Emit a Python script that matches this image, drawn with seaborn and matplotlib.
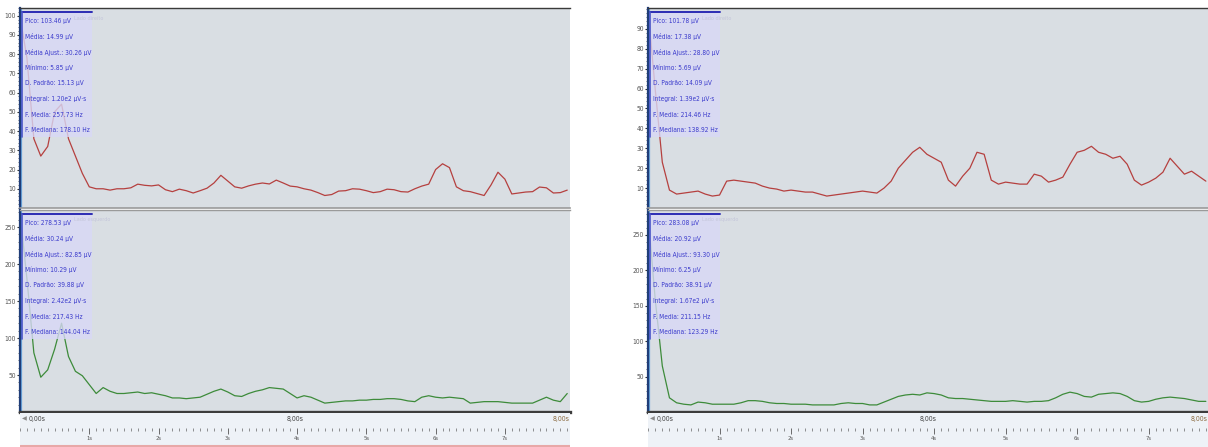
import numpy as np
import matplotlib
matplotlib.use('Agg')
import matplotlib.pyplot as plt
import seaborn as sns
from matplotlib.patches import Rectangle
from matplotlib.ticker import FixedLocator, MultipleLocator, AutoMinorLocator

W, H = 1208, 447

# ---------------- data (one reading every 0.1 s) ----------------
t_left = np.round(np.arange(0, 8.0, 0.1), 1)    # 0.0 .. 7.9 s
t_right = np.round(np.arange(0, 7.9, 0.1), 1)   # 0.0 .. 7.8 s

left_top = [100, 78, 36, 27, 32, 50, 54, 36, 27, 18,
            11, 10, 10, 9.3, 10, 10, 10.5, 12.4, 11.8, 11.5,
            12, 9.5, 8.5, 9.8, 9, 7.8, 9, 10.3, 13, 17,
            14, 11, 10.3, 11.5, 12.4, 13, 12.5, 14.5, 13, 11.4,
            11, 10, 9.3, 8, 6.5, 7, 8.8, 9, 10, 9.8,
            9, 8, 8.5, 9.8, 9.5, 8.5, 8.3, 10, 11.4, 12.4,
            20, 23, 21, 11, 9, 8.5, 7.5, 6.5, 12, 18.6,
            15, 7.3, 7.8, 8.3, 8.5, 10.9, 10.5, 7.8, 8, 9.3]

left_bottom = [270, 180, 80, 47, 57, 85, 120, 75, 55, 49,
               37, 25, 33, 28, 25, 25, 26, 27, 25, 26,
               24, 22, 19, 19, 18, 19, 20, 24, 28, 31,
               27, 22, 21, 25, 28, 30, 33, 32, 31, 25,
               19, 22, 20, 16, 12, 13, 14, 15, 15, 16,
               16, 17, 17, 18, 18, 17, 15, 14, 20, 22,
               20, 19, 20, 19, 18, 12, 13, 14, 14, 14,
               13, 12, 12, 12, 12, 16, 20, 16, 14, 25]

right_top = [100, 60, 23, 9, 7, 7.5, 8, 8.5, 7, 6,
             6.5, 13.5, 14, 13.5, 13, 12.5, 11, 10, 9.5, 8.5,
             9, 8.5, 8, 8, 7, 6, 6.5, 7, 7.5, 8,
             8.5, 8, 7.5, 10, 13.5, 20, 24, 28, 30.5, 27,
             25, 23, 14, 11, 16, 20, 28, 27, 14, 12,
             13, 12.5, 12, 12, 17, 16, 13, 14, 15.5, 22,
             28, 29, 31, 28, 27, 25, 26, 22, 14, 11.5,
             13, 15, 18, 25, 21, 17, 18.5, 16, 13.5]

right_bottom = [280, 160, 65, 20, 13, 11, 10, 14, 13, 11,
                11, 11, 11, 13, 16, 16, 15, 13, 12, 12,
                11, 11, 11, 10, 10, 10, 10, 12, 13, 12,
                12, 10, 10, 14, 18, 22, 24, 25, 24, 27,
                26, 24, 20, 19, 19, 18, 17, 16, 15, 15,
                15, 16, 15, 14, 15, 15, 16, 20, 25, 28,
                26, 22, 21, 25, 26, 27, 26, 22, 16, 14,
                15, 18, 20, 21, 20, 19, 17, 15, 15]

stat_names = ['Pico', 'Média', 'Média Ajust.', 'Mínimo', 'D. Padrão',
              'Integral', 'F. Media', 'F. Mediana']
stat_units = ['µV', 'µV', 'µV', 'µV', 'µV', 'µV·s', 'Hz', 'Hz']
stats_left_top = ['103.46', '14.99', '30.26', '5.85', '15.13', '1.20e2', '257.73', '178.10']
stats_left_bottom = ['278.53', '30.24', '82.85', '10.29', '39.88', '2.42e2', '217.43', '144.04']
stats_right_top = ['101.78', '17.38', '28.80', '5.69', '14.09', '1.39e2', '214.46', '138.92']
stats_right_bottom = ['283.08', '20.92', '93.30', '6.25', '38.91', '1.67e2', '211.15', '123.29']

top_ticks = [10, 20, 30, 40, 50, 60, 70, 80, 90, 100]
bottom_ticks = [50, 100, 150, 200, 250]
sec_ticks = [1, 2, 3, 4, 5, 6, 7]
sec_labels = ['1s', '2s', '3s', '4s', '5s', '6s', '7s']

# ---------------- style ----------------
sns.set_theme(style='white')
plt.rcParams['font.family'] = ['DejaVu Sans']
narrow = ['Liberation Sans Narrow', 'DejaVu Sans']

BG = '#d9dee3'
RED = '#b5403f'
GREEN = '#3d8b3a'
BLUE_TXT = '#3b3bcc'

fig = plt.figure(figsize=(W / 100, H / 100), dpi=100)
fig.patch.set_facecolor('white')


def px(x0, y0, x1, y1):
    return [x0 / W, 1 - y1 / H, (x1 - x0) / W, (y1 - y0) / H]


def style_signal(ax, ticks, ymax, xmax, bottom_dark):
    ax.set_facecolor(BG)
    ax.set_xlim(0, xmax)
    ax.set_ylim(0, ymax)
    ax.set_xticks([])
    ax.yaxis.set_major_locator(FixedLocator(ticks))
    ax.yaxis.set_minor_locator(AutoMinorLocator(5))
    ax.tick_params(axis='y', which='major', direction='out', length=2.5, width=0.8,
                   color='#333333', labelsize=4.8, labelcolor='#555555', pad=0.5, left=True)
    ax.tick_params(axis='y', which='minor', direction='out', length=1.2, width=0.5,
                   color='#333333', left=True)
    for lab in ax.get_yticklabels():
        lab.set_family(narrow)
        lab.set_stretch('condensed')
    ax.spines['right'].set_visible(False)
    ax.spines['left'].set_color('#1f3d78')
    ax.spines['left'].set_linewidth(1.6)
    if bottom_dark:
        ax.spines['top'].set_color('#9a9a9a')
        ax.spines['top'].set_linewidth(1.0)
        ax.spines['bottom'].set_color('#3c3c3c')
        ax.spines['bottom'].set_linewidth(2.4)
    else:
        ax.spines['top'].set_color('#3a3a3a')
        ax.spines['top'].set_linewidth(1.0)
        ax.spines['bottom'].set_color('#9a9a9a')
        ax.spines['bottom'].set_linewidth(1.2)
    ax.axvline(0.015, color='#6aa6dc', lw=0.9)
    ax.set_xlabel('')
    ax.set_ylabel('')


def stats_box(x0, y0, values, side_name):
    bw, bh = 70, 125
    fig.add_artist(Rectangle((x0 / W, 1 - (y0 + bh) / H), bw / W, bh / H,
                             transform=fig.transFigure, facecolor='#d8d8f6',
                             edgecolor='none', alpha=0.8, zorder=3))
    fig.add_artist(plt.Line2D([x0 / W, (x0 + bw) / W], [1 - y0 / H, 1 - y0 / H],
                              transform=fig.transFigure, color='#2c2cb4', lw=1.4, zorder=4))
    fig.add_artist(plt.Line2D([x0 / W, x0 / W], [1 - y0 / H, 1 - (y0 + bh) / H],
                              transform=fig.transFigure, color='#4a55c8', lw=1.2, zorder=4))
    # faint channel name, peeking out to the right of the first row
    fig.text((x0 + 52) / W, 1 - (y0 + 6) / H, side_name, fontsize=4.0, family=narrow,
             stretch='condensed', color='#c4c6da', va='center', ha='left', zorder=4)
    for i, (nm, val, un) in enumerate(zip(stat_names, values, stat_units)):
        fig.text((x0 + 3) / W, 1 - (y0 + 9 + 15.6 * i) / H, f'{nm}: {val} {un}',
                 fontsize=4.7, family=narrow, stretch='condensed', color=BLUE_TXT,
                 va='center', ha='left', zorder=5)


def ruler(ax, xmax, pink):
    ax.set_facecolor('#eef2f7')
    ax.set_xlim(0, xmax)
    ax.set_ylim(0, 1)
    ax.set_yticks([])
    for s in ['top', 'left', 'right']:
        ax.spines[s].set_visible(False)
    ax.spines['bottom'].set_position(('axes', 0.56))
    ax.spines['bottom'].set_visible(False)
    ax.xaxis.set_major_locator(FixedLocator(sec_ticks))
    ax.set_xticklabels(sec_labels)
    ax.xaxis.set_minor_locator(MultipleLocator(0.1))
    ax.tick_params(axis='x', which='major', direction='out', length=4.5, width=0.6,
                   color='#555555', labelsize=4.2, labelcolor='#555555', pad=1, bottom=True)
    ax.tick_params(axis='x', which='minor', direction='out', length=2.5, width=0.5,
                   color='#666666', bottom=True)
    for lab in ax.get_xticklabels():
        lab.set_family(narrow)
        lab.set_stretch('condensed')
    ax.text(0.003, 0.82, '◀', transform=ax.transAxes, fontsize=4.5, color='#8a8a8a',
            va='center', ha='left')
    ax.text(0.016, 0.82, '0,00s', transform=ax.transAxes, fontsize=5, family=narrow,
            stretch='condensed', color='#444444', va='center', ha='left')
    ax.text(0.5, 0.82, '8,00s', transform=ax.transAxes, fontsize=5, family=narrow,
            stretch='condensed', color='#444444', va='center', ha='center')
    ax.text(0.999, 0.82, '8,00s', transform=ax.transAxes, fontsize=5, family=narrow,
            stretch='condensed', color='#8a6a40', va='center', ha='right')
    if pink:
        ax.axhline(0.02, color='#e8a8a8', lw=2.2)


panels = [
    (20, 570, 7.94, left_top, left_bottom, t_left, 104, 273,
     stats_left_top, stats_left_bottom, top_ticks, True),
    (648, 1208, 7.83, right_top, right_bottom, t_right, 100.5, 285,
     stats_right_top, stats_right_bottom, top_ticks[:-1], False),
]

for (x0, x1, xmax, top_vals, bot_vals, t, ymax_top, ymax_bot,
     st_top, st_bot, tt, pink) in panels:
    ax_top = fig.add_axes(px(x0, 8, x1, 208))
    sns.lineplot(x=t, y=top_vals, ax=ax_top, color=RED, lw=0.9)
    style_signal(ax_top, tt, ymax_top, xmax, bottom_dark=False)

    ax_bot = fig.add_axes(px(x0, 210, x1, 412))
    sns.lineplot(x=t, y=bot_vals, ax=ax_bot, color=GREEN, lw=0.9)
    style_signal(ax_bot, bottom_ticks, ymax_bot, xmax, bottom_dark=True)

    ax_r = fig.add_axes(px(x0, 413, x1, 447))
    ruler(ax_r, xmax, pink)

    stats_box(x0 + 2, 12, st_top, 'Lado direito')
    stats_box(x0 + 2, 214, st_bot, 'Lado esquerdo')

fig.savefig('out.png', dpi=100, facecolor='white')
